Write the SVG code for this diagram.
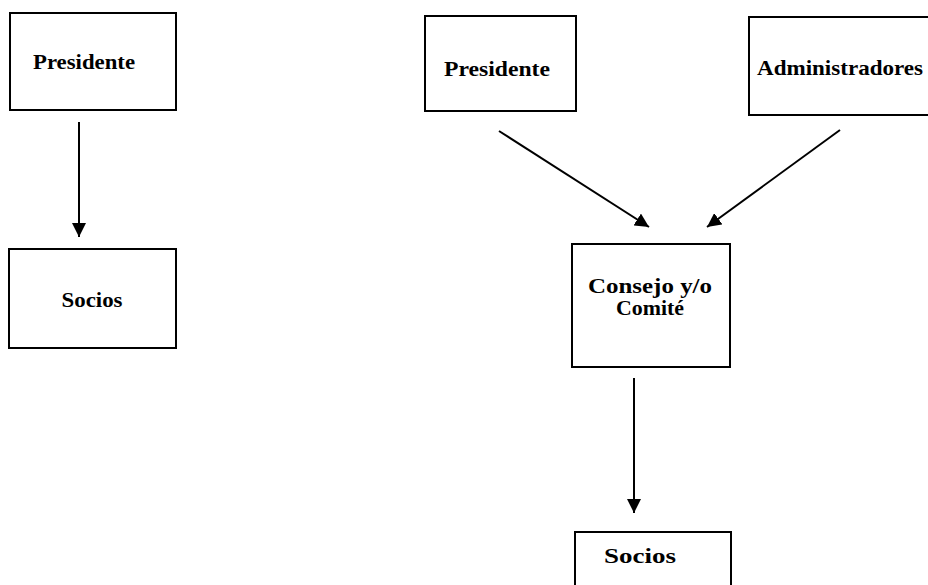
<svg xmlns="http://www.w3.org/2000/svg" width="928" height="585" viewBox="0 0 928 585">
<defs>
<style>
.box{fill:#fff;stroke:#000;stroke-width:2}
.lbl{font-family:"Liberation Serif",serif;font-weight:bold;font-size:21px;fill:#000;text-anchor:middle}
.con{stroke:#000;stroke-width:2;fill:none}
</style>
<marker id="ah" viewBox="0 0 14 14" refX="14" refY="7" markerWidth="14" markerHeight="14" markerUnits="userSpaceOnUse" orient="auto">
<path d="M0,0 L14,7 L0,14 Z" fill="#000"/>
</marker>
</defs>
<rect width="928" height="585" fill="#fff"/>
<g id="presidente1">
<rect class="box" x="10" y="13" width="166" height="97"/>
<text class="lbl" x="84" y="69" textLength="102" lengthAdjust="spacingAndGlyphs">Presidente</text>
</g>
<g id="socios1">
<rect class="box" x="9" y="249" width="167" height="99"/>
<text class="lbl" x="92" y="307" textLength="61" lengthAdjust="spacingAndGlyphs">Socios</text>
</g>
<g id="presidente2">
<rect class="box" x="425" y="16" width="151" height="95"/>
<text class="lbl" x="497" y="76" textLength="106" lengthAdjust="spacingAndGlyphs">Presidente</text>
</g>
<g id="administradores">
<rect class="box" x="749" y="17" width="190" height="98"/>
<text class="lbl" x="840" y="75" textLength="166" lengthAdjust="spacingAndGlyphs">Administradores</text>
</g>
<g id="consejo">
<rect class="box" x="572" y="244" width="158" height="123"/>
<text class="lbl" x="650" y="293" textLength="124" lengthAdjust="spacingAndGlyphs">Consejo y/o</text>
<text class="lbl" x="650" y="315" textLength="68" lengthAdjust="spacingAndGlyphs">Comité</text>
</g>
<g id="socios2">
<rect class="box" x="575" y="532" width="156" height="70"/>
<text class="lbl" x="640" y="563" textLength="72" lengthAdjust="spacingAndGlyphs">Socios</text>
</g>
<g id="connectors">
<line class="con" x1="79" y1="122" x2="79" y2="237" marker-end="url(#ah)"/>
<line class="con" x1="499" y1="131" x2="649" y2="227" marker-end="url(#ah)"/>
<line class="con" x1="840" y1="130" x2="707" y2="227" marker-end="url(#ah)"/>
<line class="con" x1="634" y1="378" x2="634" y2="513" marker-end="url(#ah)"/>
</g>
</svg>
